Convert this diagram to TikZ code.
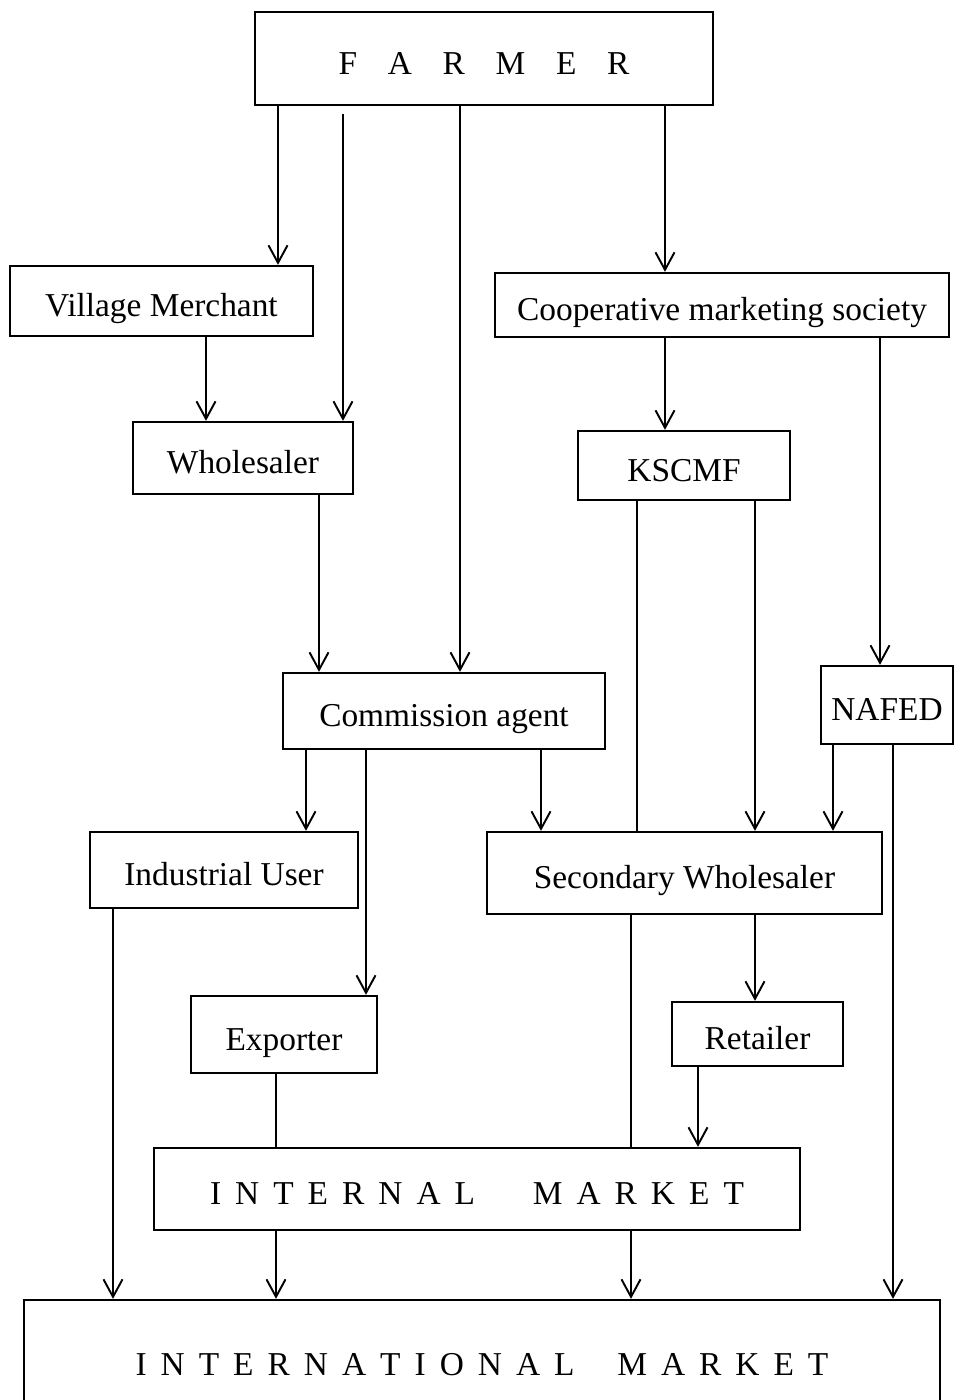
\documentclass[tikz,border=0pt]{standalone}
\usepackage{fontspec}
\setmainfont{Liberation Serif}
\usetikzlibrary{arrows.meta}
\newcommand{\labelfont}{\fontsize{19}{23}\selectfont}
\tikzset{
  box/.style={draw, line width=1.3pt, inner sep=2pt, text height=18pt, text depth=0pt},
  spaced/.style={font={\labelfont\spaceskip=#1\relax}}
}

\begin{document}
\begin{tikzpicture}[x=0.2mm, y=-0.2mm, >={Straight Barb[length=3.5mm, width=3.8mm]}, line width=1.1pt,
  every node/.style={font=\labelfont}]
  \useasboundingbox (0,0) rectangle (955,1400);
  \node[box, spaced=0.92em, minimum width=91.6mm, minimum height=18.6mm] (farmer) at (484,58.5) {F A R M E R};
  \node[box, minimum width=60.6mm, minimum height=14mm] (village) at (161.5,301) {Village Merchant};
  \node[box, minimum width=90.8mm, minimum height=12.8mm] (coop) at (722,305) {Cooperative marketing society};
  \node[box, minimum width=44mm, minimum height=14.4mm] (whole) at (243,458) {Wholesaler};
  \node[box, minimum width=42.4mm, minimum height=13.8mm] (kscmf) at (684,465.5) {KSCMF};
  \node[box, minimum width=64.4mm, minimum height=15.2mm] (agent) at (444,711) {Commission agent};
  \node[box, minimum width=26.4mm, minimum height=15.6mm] (nafed) at (887,705) {NAFED};
  \node[box, minimum width=53.6mm, minimum height=15.2mm] (induser) at (224,870) {Industrial User};
  \node[box, minimum width=79mm, minimum height=16.4mm] (secwhole) at (684.5,873) {Secondary Wholesaler};
  \node[box, minimum width=37.2mm, minimum height=15.4mm] (exporter) at (284,1034.5) {Exporter};
  \node[box, minimum width=34.2mm, minimum height=12.8mm] (retailer) at (757.5,1034) {Retailer};
  \node[box, spaced=0.42em, minimum width=129.2mm, minimum height=16.4mm] (internal) at (477,1189) {I N T E R N A L \hspace{1.31em}M A R K E T};
  \node[box, spaced=0.42em, minimum width=183.2mm, minimum height=24mm] (intl) at (482,1360) {I N T E R N A T I O N A L \hspace{0.86em}M A R K E T};

  \draw[->] (278,0|-farmer.south) -- (278,0|-village.north);
  \draw[->, shorten <=1.6mm] (343,0|-farmer.south) -- (343,0|-whole.north);
  \draw[->] (460,0|-farmer.south) -- (460,0|-agent.north);
  \draw[->] (665,0|-farmer.south) -- (665,0|-coop.north);
  \draw[->] (206,0|-village.south) -- (206,0|-whole.north);
  \draw[->] (665,0|-coop.south) -- (665,0|-kscmf.north);
  \draw[->] (880,0|-coop.south) -- (880,0|-nafed.north);
  \draw[->] (319,0|-whole.south) -- (319,0|-agent.north);
  \draw (637,0|-kscmf.south) -- (637,0|-secwhole.north);
  \draw[->] (755,0|-kscmf.south) -- (755,0|-secwhole.north);
  \draw[->] (833,0|-nafed.south) -- (833,0|-secwhole.north);
  \draw[->] (893,0|-nafed.south) -- (893,0|-intl.north);
  \draw[->] (306,0|-agent.south) -- (306,0|-induser.north);
  \draw[->] (366,0|-agent.south) -- (366,0|-exporter.north);
  \draw[->] (541,0|-agent.south) -- (541,0|-secwhole.north);
  \draw[->] (113,0|-induser.south) -- (113,0|-intl.north);
  \draw (276,0|-exporter.south) -- (276,0|-internal.north);
  \draw[->] (276,0|-internal.south) -- (276,0|-intl.north);
  \draw (631,0|-secwhole.south) -- (631,0|-internal.north);
  \draw[->] (631,0|-internal.south) -- (631,0|-intl.north);
  \draw[->] (755,0|-secwhole.south) -- (755,0|-retailer.north);
  \draw[->] (698,0|-retailer.south) -- (698,0|-internal.north);
\end{tikzpicture}
\end{document}
